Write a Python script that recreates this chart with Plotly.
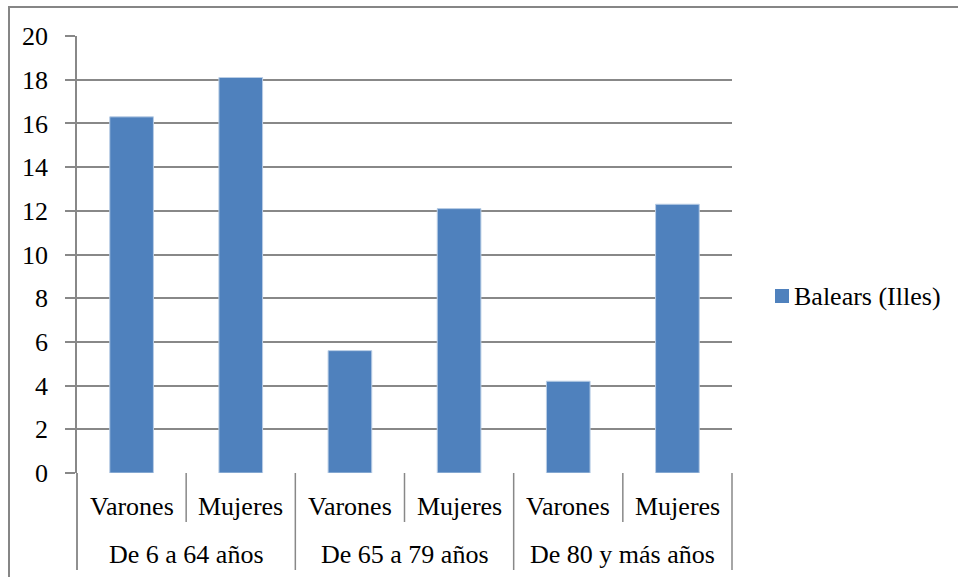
import plotly.graph_objects as go

# Data
groups = ["De 6 a 64 años", "De 65 a 79 años", "De 80 y más años"]
sexes = ["Varones", "Mujeres"]
values = [16.3, 18.1, 5.6, 12.1, 4.2, 12.3]
series_name = "Balears (Illes)"
y_ticks = list(range(0, 21, 2))

# Figure geometry (pixels)
W, H = 958, 577
L, R, T, B = 77, 732, 36, 473
ROW1_Y, ROW2_Y = 506, 554      # centers of the two category label rows
ROW1_END, ROW2_END = 522, 570  # bottom ends of the separator lines

FONT = "Liberation Serif, Times New Roman, serif"
FS = 26
GRID = "#888888"
GW = 1.5
BAR = "#4F81BD"

n = len(values)
x_pos = list(range(n))
x_range = [-0.5, n - 0.5]


def py(p):
    """pixel row -> paper y"""
    return (B - p) / (B - T)


def pxp(p):
    """pixel column -> paper x"""
    return (p - L) / (R - L)


def xdom(v):
    """x data value -> x domain fraction"""
    return (v - x_range[0]) / (x_range[1] - x_range[0])


fig = go.Figure(
    go.Bar(
        x=x_pos,
        y=values,
        width=0.4,
        marker=dict(color=BAR, line=dict(color="#b9cde5", width=1)),
        name=series_name,
        showlegend=False,
    )
)

shapes = []
annotations = []

# axis line continuing down through the category label rows
shapes.append(dict(type="line", xref="x domain", yref="paper",
                   x0=0, x1=0, y0=0, y1=py(ROW2_END),
                   line=dict(color=GRID, width=GW)))

# group separators (full depth) and inner separators (first row only)
for g in range(len(groups) + 1):
    b = -0.5 + 2 * g
    shapes.append(dict(type="line", xref="x domain", yref="paper",
                       x0=xdom(b), x1=xdom(b), y0=0, y1=py(ROW2_END),
                       line=dict(color=GRID, width=GW)))
for g in range(len(groups)):
    b = 0.5 + 2 * g
    shapes.append(dict(type="line", xref="x domain", yref="paper",
                       x0=xdom(b), x1=xdom(b), y0=0, y1=py(ROW1_END),
                       line=dict(color=GRID, width=GW)))

# category labels
for i in range(n):
    annotations.append(dict(x=i, xref="x", y=py(ROW1_Y), yref="paper",
                            text=sexes[i % 2], showarrow=False,
                            xanchor="center", yanchor="middle",
                            font=dict(family=FONT, size=FS, color="black")))
for g, name in enumerate(groups):
    annotations.append(dict(x=2 * g + 0.5, xref="x", y=py(ROW2_Y), yref="paper",
                            text=name, showarrow=False,
                            xanchor="center", yanchor="middle",
                            font=dict(family=FONT, size=FS, color="black")))

# legend key
shapes.append(dict(type="rect", xref="paper", yref="paper",
                   x0=pxp(775), x1=pxp(789), y0=py(289), y1=py(303),
                   fillcolor=BAR, line=dict(width=0)))
annotations.append(dict(x=pxp(792), xref="paper", y=py(296), yref="paper",
                        text=series_name, showarrow=False,
                        xanchor="left", yanchor="middle",
                        font=dict(family=FONT, size=FS, color="black")))

# chart border
shapes.append(dict(type="rect", xref="paper", yref="paper",
                   x0=pxp(9), x1=pxp(W + 20), y0=py(H + 20), y1=py(7),
                   line=dict(color="#868686", width=2), fillcolor="rgba(0,0,0,0)"))

fig.update_layout(
    width=W, height=H,
    margin=dict(l=L, r=W - R, t=T, b=H - B),
    plot_bgcolor="white", paper_bgcolor="white",
    bargap=0.6,
    shapes=shapes,
    annotations=annotations,
    xaxis=dict(range=x_range, showticklabels=False, showgrid=False,
               zeroline=False, showline=False, ticks="", fixedrange=True),
    yaxis=dict(range=[0, 20], tickvals=y_ticks, ticks="outside", ticklen=10,
               tickcolor=GRID, tickwidth=GW, showgrid=True, gridcolor=GRID,
               gridwidth=GW, zeroline=False, showline=True, linecolor=GRID,
               linewidth=GW, ticklabelstandoff=12,
               tickfont=dict(family=FONT, size=FS, color="black")),
)

fig.write_html("out.html")
